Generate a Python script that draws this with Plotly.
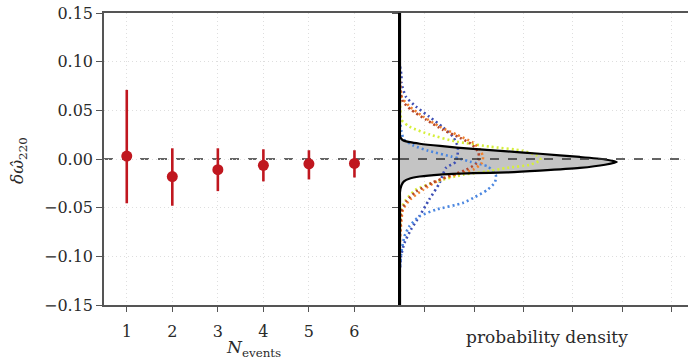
import plotly.graph_objects as go

# ---------------- data ----------------
n_events = [1, 2, 3, 4, 5, 6]
dw_median = [0.003, -0.018, -0.011, -0.0065, -0.005, -0.0045]
dw_upper = [0.071, 0.011, 0.011, 0.010, 0.009, 0.009]
dw_lower = [-0.0455, -0.048, -0.033, -0.023, -0.021, -0.019]

y_ticks = [-0.15, -0.10, -0.05, 0.0, 0.05, 0.10, 0.15]
y_ticktext = ["\u22120.15", "\u22120.10", "\u22120.05", "0.00", "0.05", "0.10", "0.15"]
dens_ticks = [5, 15, 25, 35, 45, 55]

# combined posterior (black, grey filled)
comb_y = [-0.150, -0.040, -0.034, -0.027, -0.023, -0.020, -0.018, -0.016, -0.0146, -0.0138,
          -0.012, -0.0092, -0.0059, -0.003, -0.0005, 0.0021, 0.0054, 0.0078, 0.0103, 0.0134,
          0.0157, 0.0173, 0.0193, 0.022, 0.025, 0.030, 0.150]
comb_d = [0, 0, 0.0, 0.3, 0.8, 2.0, 4.0, 8.1, 14.8, 21.7,
          28.3, 36.4, 41.5, 43.9, 41.5, 36.4, 28.3, 21.7, 14.8, 8.1,
          4.0, 2.0, 0.6, 0.1, 0, 0, 0]

# individual posteriors (dotted)
darkblue_y = [0.095, 0.086, 0.078, 0.064, 0.054, 0.0435, 0.033, 0.023, 0.0126, 0.0065,
              -0.0028, -0.0092, -0.0247, -0.0418, -0.059, -0.0726, -0.0863, -0.100, -0.114]
darkblue_d = [0.0, 0.3, 0.3, 1.2, 3.2, 5.9, 8.6, 10.7, 11.7, 11.7,
              11.3, 9.3, 8.0, 5.9, 3.9, 2.2, 0.9, 0.2, 0.0]

blue_y = [0.040, 0.035, 0.028, 0.020, 0.0137, 0.0085, 0.0024, -0.0027, -0.0078, -0.0165,
          -0.0240, -0.0320, -0.0390, -0.0452, -0.052, -0.059, -0.069, -0.0795, -0.095, -0.110]
blue_d = [0.0, 0.1, 0.3, 0.8, 2.8, 5.7, 10.5, 14.2, 17.8, 19.4,
          19.2, 17.6, 15.2, 12.7, 7.3, 3.9, 1.9, 0.9, 0.3, 0.0]

orange_y = [0.080, 0.073, 0.063, 0.0537, 0.0435, 0.033, 0.025, 0.0167, 0.0096, 0.0024,
            -0.0038, -0.011, -0.016, -0.0213, -0.0315, -0.0418, -0.052, -0.062, -0.0747, -0.085]
orange_d = [0.0, 0.1, 0.4, 2.0, 4.7, 8.1, 11.5, 14.8, 16.2, 16.8,
            16.6, 14.8, 11.5, 8.1, 4.7, 2.0, 0.6, 0.3, 0.1, 0.0]

red_y = [0.076, 0.069, 0.059, 0.0507, 0.0404, 0.030, 0.0219, 0.0147, 0.0075, 0.0013,
         -0.0048, -0.011, -0.0172, -0.0244, -0.0336, -0.0439, -0.054, -0.0675, -0.078]
red_d = [0.0, 0.1, 0.6, 2.2, 5.3, 8.7, 12.1, 14.6, 15.8, 16.0,
         15.4, 13.4, 10.1, 6.5, 3.2, 1.2, 0.3, 0.1, 0.0]

yellow_y = [0.060, 0.0506, 0.040, 0.033, 0.025, 0.0178, 0.0127, 0.0085, 0.0034, -0.0007,
            -0.0059, -0.009, -0.0130, -0.0161, -0.0233, -0.0315, -0.0418, -0.052, -0.064, -0.072]
yellow_d = [0.0, 0.06, 0.3, 2.0, 6.1, 11.5, 18.2, 24.9, 27.7, 28.5,
            26.3, 21.7, 17.4, 12.8, 7.3, 3.2, 1.2, 0.2, 0.06, 0.0]

# ---------------- figure ----------------
W, H = 688, 362
FONT = "DejaVu Serif"
RED = "#c0171f"
GRID = "#dedede"
FRAME = "#555555"
TXT = "#2a2a2a"

fig = go.Figure()

err_plus = [u - m for u, m in zip(dw_upper, dw_median)]
err_minus = [m - l for m, l in zip(dw_median, dw_lower)]
fig.add_trace(go.Scatter(
    x=n_events, y=dw_median, mode="markers",
    marker=dict(color=RED, size=11, line=dict(width=0)),
    error_y=dict(type="data", array=err_plus, arrayminus=err_minus,
                 color=RED, thickness=2.6, width=0),
    xaxis="x", yaxis="y", showlegend=False))

# grey filled combined posterior
fig.add_trace(go.Scatter(
    x=comb_d, y=comb_y, mode="lines", fill="tozerox", fillcolor="#c4c4c4",
    line=dict(width=0, shape="spline", smoothing=0.6),
    xaxis="x2", yaxis="y2", showlegend=False))

dotted = [
    (darkblue_d, darkblue_y, "#3d4fb5"),
    (blue_d, blue_y, "#4a86e0"),
    (yellow_d, yellow_y, "#d6ef3c"),
    (orange_d, orange_y, "#f2822e"),
    (red_d, red_y, "#b5472b"),
]
for d, y, c in dotted:
    fig.add_trace(go.Scatter(
        x=d, y=y, mode="lines",
        line=dict(color=c, width=2.6, dash="2px,3px", shape="spline", smoothing=0.6),
        xaxis="x2", yaxis="y2", showlegend=False))

fig.add_trace(go.Scatter(
    x=comb_d, y=comb_y, mode="lines",
    line=dict(color="black", width=2.2, shape="spline", smoothing=0.6),
    xaxis="x2", yaxis="y2", showlegend=False))

x_split = 400 / W
x_left = 104 / W

common_grid = dict(showgrid=True, gridcolor=GRID, griddash="1px,3px", gridwidth=1, zeroline=False)
tickfont = dict(family=FONT, size=16, color=TXT)

fig.update_layout(
    width=W, height=H,
    margin=dict(l=0, r=0, t=13, b=57),
    paper_bgcolor="white", plot_bgcolor="white",
    xaxis=dict(domain=[x_left, x_split], range=[0.5, 7.0], tickvals=n_events,
               ticks="outside", ticklen=5, tickwidth=1, tickcolor=FRAME,
               showline=True, linecolor=FRAME, linewidth=1.5, mirror=True,
               tickfont=tickfont, ticklabelstandoff=6, anchor="y", **common_grid),
    yaxis=dict(domain=[0, 1], range=[-0.15, 0.15], tickvals=y_ticks, ticktext=y_ticktext,
               ticks="outside", ticklen=6, tickwidth=1, tickcolor=FRAME,
               showline=True, linecolor=FRAME, linewidth=1.5, mirror=False,
               tickfont=tickfont, anchor="x", **common_grid),
    xaxis2=dict(domain=[x_split, 1], range=[0, 58.3], tickvals=dens_ticks,
                showticklabels=False, ticks="outside", ticklen=5, tickwidth=1, tickcolor=FRAME,
                showline=True, linecolor=FRAME, linewidth=1.5, mirror=True,
                anchor="y2", **common_grid),
    yaxis2=dict(domain=[0, 1], range=[-0.15, 0.15], tickvals=y_ticks,
                showticklabels=False, ticks="outside", ticklen=6, tickwidth=1, tickcolor=FRAME,
                showline=True, linecolor="black", linewidth=2, side="left",
                anchor="x2", **common_grid),
    shapes=[
        dict(type="line", xref="x domain", yref="y", x0=0, x1=1, y0=0, y1=0,
             line=dict(color="#333", width=1.6, dash="dash"), layer="below"),
        dict(type="line", xref="x2 domain", yref="y2", x0=0, x1=1, y0=0, y1=0,
             line=dict(color="#333", width=1.6, dash="dash"), layer="above"),
    ],
    annotations=[
        dict(text="<i>δω̂</i><sub>220</sub>", xref="paper", yref="paper",
             x=18 / W, y=(H - 57 - 161) / (H - 13 - 57), textangle=-90,
             showarrow=False, font=dict(family=FONT, size=17, color=TXT),
             xanchor="center", yanchor="middle"),
        dict(text="<i>N</i><sub>events</sub>", xref="paper", yref="paper",
             x=253 / W, y=-(348 - 305) / (H - 13 - 57), showarrow=False,
             font=dict(family=FONT, size=17, color=TXT),
             xanchor="center", yanchor="middle"),
        dict(text="probability density", xref="paper", yref="paper",
             x=547 / W, y=-(337 - 305) / (H - 13 - 57), showarrow=False,
             font=dict(family=FONT, size=17, color=TXT),
             xanchor="center", yanchor="middle"),
    ],
)

fig.write_html("out.html")
